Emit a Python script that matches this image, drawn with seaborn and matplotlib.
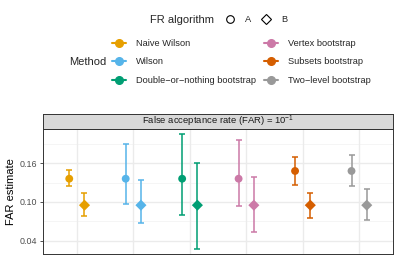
import numpy as np
import pandas as pd
import matplotlib
matplotlib.use("Agg")
import matplotlib.pyplot as plt
from matplotlib.lines import Line2D
import seaborn as sns

methods = ["Naive Wilson", "Wilson", "Double\u2212or\u2212nothing bootstrap",
           "Vertex bootstrap", "Subsets bootstrap", "Two\u2212level bootstrap"]
colors = ["#E69F00", "#56B4E9", "#009E73", "#CC79A7", "#D55E00", "#999999"]
algorithms = ["A", "B"]
est_A = [0.136, 0.136, 0.136, 0.136, 0.148, 0.148]
lo_A = [0.124, 0.097, 0.080, 0.093, 0.127, 0.125]
hi_A = [0.149, 0.189, 0.205, 0.196, 0.170, 0.172]
est_B = [0.095, 0.095, 0.095, 0.095, 0.095, 0.095]
lo_B = [0.079, 0.067, 0.027, 0.054, 0.075, 0.072]
hi_B = [0.114, 0.134, 0.161, 0.138, 0.114, 0.120]
yticks = [0.04, 0.10, 0.16]
ytick_labels = ["0.04", "0.10", "0.16"]
strip_title = "False acceptance rate (FAR) = 10$^{-1}$"

sns.set_theme(style="white")
plt.rcParams["font.family"] = ["Liberation Sans", "DejaVu Sans"]
plt.rcParams["mathtext.fontset"] = "custom"
plt.rcParams["mathtext.rm"] = "Liberation Sans"
plt.rcParams["mathtext.it"] = "Liberation Sans:italic"

rows = []
for i, m in enumerate(methods):
    rows.append(dict(Method=m, alg="A", idx=i, est=est_A[i], lo=lo_A[i], hi=hi_A[i]))
    rows.append(dict(Method=m, alg="B", idx=i, est=est_B[i], lo=lo_B[i], hi=hi_B[i]))
df = pd.DataFrame(rows)
dodge = {"A": -0.135, "B": 0.135}
df["x"] = df["idx"] + df["alg"].map(dodge)

W, H = 399, 264
fig = plt.figure(figsize=(W / 100, H / 100), dpi=100)
ax = fig.add_axes([43 / W, (H - 254) / H, 350 / W, 125 / H])
sax = fig.add_axes([43 / W, (H - 129) / H, 350 / W, 15 / H])

pal = dict(zip(methods, colors))

# grid
for v in [0.07, 0.13, 0.19]:
    ax.axhline(v, color="#F2F2F2", lw=0.5, zorder=0)
for v in yticks:
    ax.axhline(v, color="#EBEBEB", lw=1.0, zorder=0)
for i in range(len(methods)):
    ax.axvline(i, color="#EBEBEB", lw=1.0, zorder=0)

for _, r in df.iterrows():
    ax.errorbar(r["x"], r["est"], yerr=[[r["est"] - r["lo"]], [r["hi"] - r["est"]]],
                fmt="none", ecolor=pal[r["Method"]], elinewidth=1.1, capsize=2.3,
                capthick=1.1, zorder=2)

sns.scatterplot(data=df, x="x", y="est", hue="Method", style="alg",
                markers={"A": "o", "B": "D"}, palette=pal, s=32,
                linewidth=0, legend=False, ax=ax, zorder=3)

ax.set_xlim(-0.6, len(methods) - 1 + 0.6)
ax.set_ylim(0.0194, 0.213)
ax.set_yticks(yticks)
ax.set_yticklabels(ytick_labels)
ax.set_xticks([])
ax.set_xlabel("")
ax.set_ylabel("FAR estimate", fontsize=8, color="black", labelpad=3)
ax.tick_params(axis="y", labelsize=6.4, labelcolor="#4D4D4D", color="#333333",
               length=2.5, width=0.6, pad=1.5, left=True)
for s in ax.spines.values():
    s.set_color("#333333")
    s.set_linewidth(0.7)

sax.set_facecolor("#D9D9D9")
sax.set_xticks([])
sax.set_yticks([])
for s in sax.spines.values():
    s.set_color("#333333")
    s.set_linewidth(0.7)
sax.text(0.5, 0.5, strip_title, ha="center", va="center", fontsize=6.8,
         color="#1A1A1A", transform=sax.transAxes)

# FR algorithm legend
fig.text(150 / W, 1 - 20 / H, "FR algorithm", fontsize=8, va="center", ha="left")
alg_handles = [Line2D([], [], marker=mk, ls="none", markerfacecolor="none",
                      markeredgecolor="black", markersize=ms, markeredgewidth=0.8)
               for mk, ms in zip(["o", "D"], [5.5, 5])]
fig.legend(alg_handles, algorithms, loc="center left",
           bbox_to_anchor=(225 / W, 1 - 20 / H), ncol=2, frameon=False,
           fontsize=6.7, handlelength=1.15, handletextpad=1.0, columnspacing=1.05,
           borderpad=0, borderaxespad=0)

# Method legend
fig.text(106 / W, 1 - 62 / H, "Method", fontsize=8, va="center", ha="right")
m_handles = [Line2D([], [], color=c, marker="o", lw=1.5, markersize=5.5)
             for c in colors]
fig.legend(m_handles, methods, loc="center left",
           bbox_to_anchor=(112 / W, 1 - 62 / H), ncol=2, frameon=False,
           fontsize=6.7, handlelength=1.5, handletextpad=1.07, columnspacing=0.86,
           labelspacing=1.0, borderpad=0, borderaxespad=0)

fig.savefig("out.png", dpi=100)
